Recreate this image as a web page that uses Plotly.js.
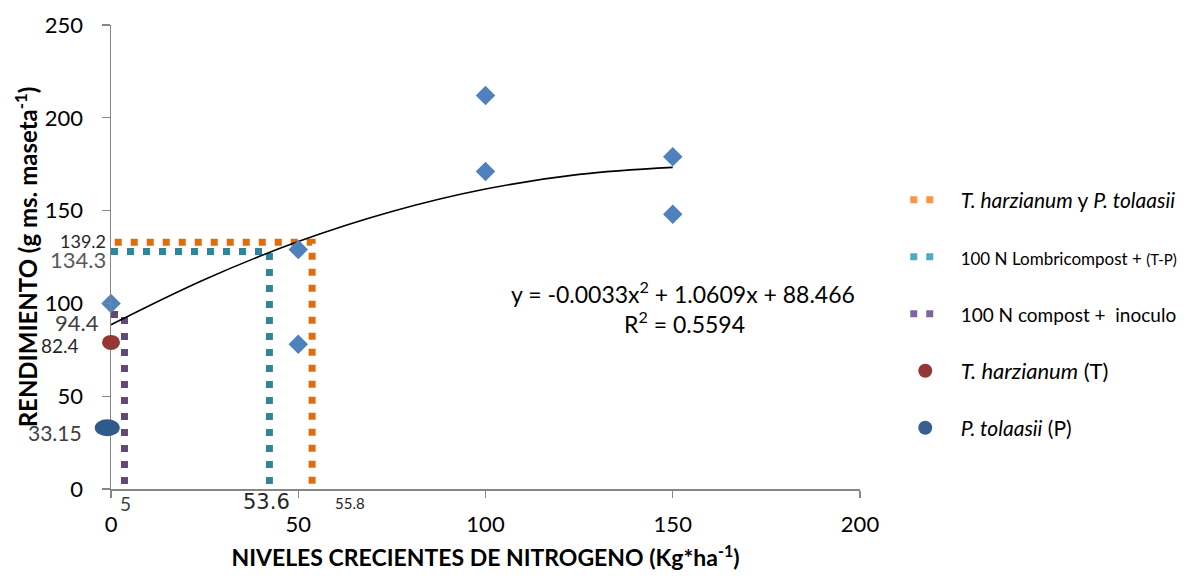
<!DOCTYPE html>
<html>
<head>
<meta charset="utf-8">
<script src="https://cdn.plot.ly/plotly-3.0.1.min.js"></script>
<style>html,body{margin:0;padding:0;background:#fff;}#chart{width:1188px;height:576px;}</style>
</head>
<body>
<div id="chart"></div>
<script>
// Observed data (blue diamonds)
const nitroX = [0, 50, 50, 100, 100, 150, 150];
const yieldY = [100, 129, 78, 212, 171, 179, 148];
// Polynomial trendline
const trendX = [0, 25, 50, 75, 100, 125, 150];
const trendY = [88.5, 112.9, 133.3, 149.5, 161.6, 169.5, 173.3];
// Dotted reference lines
const orangeX = [1, 53.7, 53.7];
const orangeY = [133, 133, 0];
const tealX = [0, 42.3, 42.3];
const tealY = [128, 128, 0];
const purpleX = [0, 3.6, 3.6];
const purpleY = [94, 94, 0];
// Single treatments (ellipses)
const trichoX = [0];
const trichoY = [79];
const pseudoX = [-1];
const pseudoY = [33];
// Text
const legendNames = [
  '<span style="font-size:21px"><i>T. harzianum</i> y <i>P. tolaasii</i></span>',
  '<span style="font-size:17px">100 N Lombricompost + </span><span style="font-size:15px">(T-P)</span>',
  '<span style="font-size:19px">100 N compost +  inoculo</span>',
  '<span style="font-size:22px"><i>T. harzianum</i> (T)</span>',
  '<span style="font-size:21px"><i>P. tolaasii</i> (P)</span>'
];
const valueLabels = ['139.2', '134.3', '94.4', '82.4', '33.15', '5', '53.6', '55.8'];
const equationText = 'y = -0.0033x<sup>2</sup> + 1.0609x + 88.466';
const r2Text = 'R<sup>2</sup> = 0.5594';
const xTitle = '<b>NIVELES CRECIENTES DE NITROGENO (Kg*ha<sup>-1</sup>)</b>';
const yTitle = '<b>RENDIMIENTO (g ms. maseta<sup>-1</sup>)</b>';
const xTicks = [0, 50, 100, 150, 200];
const yTicks = [0, 50, 100, 150, 200, 250];
const xRange = [0, 200];

const F = 'Lato, "Open Sans", sans-serif';
const dotDash = '7px,9px';
const pad = '\u00a0\u00a0\u00a0';

const traces = [
  {x: orangeX, y: orangeY, mode: 'lines', line: {color: '#E46C0A', width: 7, dash: dotDash}, showlegend: false, hoverinfo: 'skip'},
  {x: tealX, y: tealY, mode: 'lines', line: {color: '#31849B', width: 7, dash: dotDash}, showlegend: false, hoverinfo: 'skip'},
  {x: purpleX, y: purpleY, mode: 'lines', line: {color: '#5F497A', width: 7, dash: dotDash}, showlegend: false, hoverinfo: 'skip'},
  {x: trendX, y: trendY, mode: 'lines', line: {color: '#000000', width: 1.6, shape: 'spline'}, showlegend: false},
  {x: nitroX, y: yieldY, mode: 'markers', marker: {symbol: 'diamond', size: 15, color: '#4F81BD'}, showlegend: false, cliponaxis: false},
  // legend entries
  {x: [null], y: [null], mode: 'lines', name: pad + legendNames[0], legendgroup: 'a', line: {color: '#F79646', width: 7, dash: dotDash}},
  {x: [null], y: [null], mode: 'lines', name: pad + legendNames[1], legendgroup: 'b', line: {color: '#4BACC6', width: 7, dash: dotDash}},
  {x: [null], y: [null], mode: 'lines', name: pad + legendNames[2], legendgroup: 'c', line: {color: '#8064A2', width: 7, dash: dotDash}},
  {x: [null], y: [null], mode: 'markers', name: pad + legendNames[3], legendgroup: 'd', marker: {symbol: 'circle', size: 14, color: '#953735'}},
  {x: [null], y: [null], mode: 'markers', name: pad + legendNames[4], legendgroup: 'e', marker: {symbol: 'circle', size: 14, color: '#376092'}}
];

const shapes = [];
function ellipse(xs, ys, w, h, color) {
  for (let i = 0; i < xs.length; i++) {
    // x anchored in paper units (converted from the data value) so the ellipse is not clipped at the axis
    shapes.push({type: 'circle', xref: 'paper', yref: 'y', xsizemode: 'pixel', ysizemode: 'pixel',
      xanchor: (xs[i] - xRange[0]) / (xRange[1] - xRange[0]), yanchor: ys[i],
      x0: -w / 2, x1: w / 2, y0: -h / 2, y1: h / 2,
      fillcolor: color, line: {width: 0}, layer: 'above'});
  }
}
ellipse(trichoX, trichoY, 18, 15, '#953735');
ellipse(pseudoX, pseudoY, 25, 17, '#2F5A8C');

function ann(text, x, y, size, color, xanchor, family) {
  return {text: text, xref: 'paper', yref: 'paper', x: x, y: y, xanchor: xanchor || 'center',
    yanchor: 'middle', showarrow: false, font: {family: family || F, size: size, color: color}};
}
// paper coords: plot area x 111..860, y 25..489
const px = v => (v - 111) / 749;
const py = v => (489 - v) / 464;

const annotations = [
  ann(valueLabels[0], px(108), py(241), 18, '#262626', 'right'),
  ann(valueLabels[1], px(108), py(259), 22, '#595959', 'right'),
  ann(valueLabels[2], px(101), py(323), 22, '#404040', 'right'),
  ann(valueLabels[3], px(81), py(345), 19, '#262626', 'right'),
  ann(valueLabels[4], px(84), py(432), 21, '#404040', 'right'),
  ann(valueLabels[5], px(125), py(503), 19, '#404040', 'center'),
  ann(valueLabels[6], px(266), py(502), 21, '#262626', 'center', '"DejaVu Sans", sans-serif'),
  ann(valueLabels[7], px(350), py(503), 15, '#262626', 'center'),
  ann(equationText, px(683), py(292), 23, '#000000', 'center'),
  ann(r2Text, px(684), py(322), 23, '#000000', 'center')
];

const layout = {
  width: 1188, height: 576,
  margin: {l: 111, r: 328, t: 25, b: 87},
  paper_bgcolor: '#ffffff', plot_bgcolor: '#ffffff',
  font: {family: F, color: '#000000'},
  showlegend: true,
  legend: {xref: 'container', yref: 'container', x: 0.762, y: 0.687, xanchor: 'left', yanchor: 'top',
    tracegroupgap: 28, font: {family: F, size: 20, color: '#000000'}, bgcolor: 'rgba(0,0,0,0)', itemwidth: 30},
  xaxis: {range: xRange, tickvals: xTicks, ticktext: xTicks.map(String), showgrid: false, zeroline: false,
    showline: true, linecolor: '#868686', linewidth: 1.5, ticks: 'outside', ticklen: 7, tickcolor: '#868686',
    tickwidth: 1.3, tickfont: {family: F, size: 22, color: '#000'}, ticklabelstandoff: 8,
    title: {text: xTitle, font: {family: F, size: 23, color: '#000'}, standoff: 14}, automargin: false},
  yaxis: {range: [0, 250], tickvals: yTicks, ticktext: yTicks.map(String), showgrid: false, zeroline: false,
    showline: true, linecolor: '#868686', linewidth: 1.5, ticks: 'outside', ticklen: 8, tickcolor: '#868686',
    tickwidth: 1.3, tickfont: {family: F, size: 22, color: '#000'}, ticklabelstandoff: 14,
    title: {text: yTitle, font: {family: F, size: 24, color: '#000'}, standoff: 0}, automargin: false},
  shapes: shapes,
  annotations: annotations
};

Plotly.newPlot('chart', traces, layout, {displayModeBar: false, staticPlot: true});
</script>
</body>
</html>
